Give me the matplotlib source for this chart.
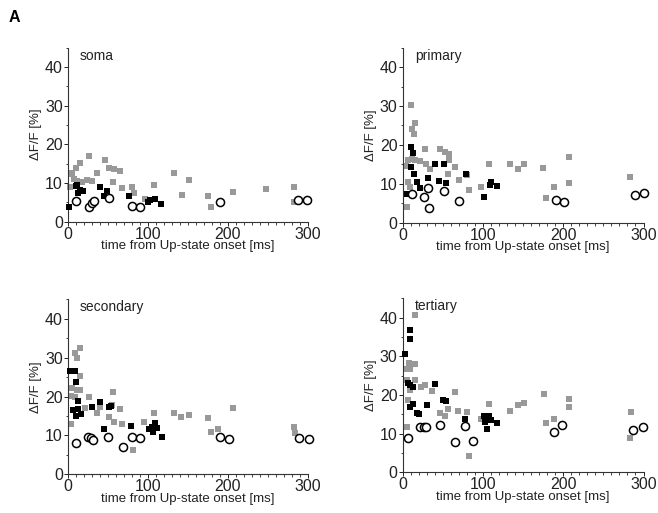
import matplotlib
matplotlib.use("Agg")
import matplotlib.pyplot as plt
from matplotlib.ticker import MultipleLocator

plt.rcParams["font.family"] = ["Liberation Sans", "DejaVu Sans"]

# soma
soma_gray_t = [3, 4, 5, 8, 10, 15, 27, 12, 18, 24, 30, 36, 46, 52, 58, 65, 56, 68, 80, 83,
               96, 108, 133, 143, 151, 175, 179, 207, 248, 283, 283]
soma_gray_v = [9.0, 12.5, 12.3, 11.0, 13.8, 15.2, 17.0, 10.5, 10.3, 10.7, 10.5, 12.7, 15.9, 14.0,
               13.5, 13.2, 10.2, 8.6, 8.9, 7.3, 5.8, 9.5, 12.6, 6.9, 10.8, 6.5, 3.9, 7.7, 8.4,
               9.0, 5.2]
soma_black_t = [2, 10, 12, 13, 15, 19, 40, 45, 49, 77, 100, 103, 109, 117]
soma_black_v = [3.9, 9.2, 9.6, 7.5, 8.2, 8.0, 8.9, 6.6, 7.8, 6.7, 5.0, 5.6, 5.8, 4.6]
soma_open_t = [10, 26, 30, 33, 51, 80, 90, 190, 287, 299]
soma_open_v = [5.3, 3.9, 4.9, 5.3, 6.2, 4.0, 3.9, 5.2, 5.6, 5.6]

# primary
primary_gray_t = [10, 12, 15, 14, 5, 7, 9, 4, 7, 11, 15, 22, 28, 29, 34, 46, 53, 58, 58, 56,
                  65, 70, 80, 83, 97, 108, 134, 144, 151, 175, 179, 188, 207, 207, 283]
primary_gray_v = [30.3, 24.2, 25.6, 22.7, 4.1, 10.5, 9.2, 14.5, 16.1, 16.3, 16.2, 15.9, 19.0,
                  15.2, 13.9, 19.0, 18.2, 17.6, 16.1, 12.5, 14.4, 10.9, 12.2, 8.4, 9.2, 15.0,
                  15.0, 13.9, 15.0, 14.0, 6.3, 9.1, 16.9, 10.3, 11.7]
primary_black_t = [5, 10, 10, 13, 14, 17.5, 21, 31, 40, 45, 51, 54, 79, 101, 109, 110, 117]
primary_black_v = [7.4, 19.4, 14.3, 17.8, 12.5, 10.4, 9.0, 11.4, 15.1, 10.8, 15.0, 10.3, 12.4,
                   6.5, 9.6, 10.4, 9.5]
primary_open_t = [12, 27, 31, 33, 52, 70, 191, 201, 289, 300]
primary_open_v = [7.4, 6.5, 9.0, 3.8, 8.1, 5.6, 5.8, 5.2, 7.1, 7.5]

# secondary
secondary_gray_t = [9, 12, 15, 15, 5, 4, 9, 11, 15, 4, 22, 27, 36, 40, 57, 55, 52, 58, 65, 68,
                    82, 95, 108, 133, 142, 151, 175, 179, 188, 207, 283, 284]
secondary_gray_v = [31.3, 30.0, 32.6, 25.3, 22.1, 20.1, 20.0, 21.7, 21.7, 12.9, 17.1, 20.0,
                    15.9, 17.2, 21.1, 17.8, 14.8, 13.5, 16.7, 12.9, 6.3, 13.5, 15.9, 15.9, 14.8,
                    15.2, 14.4, 10.8, 11.6, 17.0, 12.1, 10.7]
secondary_black_t = [3, 9, 10, 13, 6, 13, 10, 17, 30, 40, 51, 54, 45, 79, 102, 105, 109, 111,
                     107, 118]
secondary_black_v = [26.6, 26.6, 23.8, 18.9, 16.5, 16.8, 15.0, 15.4, 17.4, 18.5, 17.2, 17.7,
                     11.6, 12.4, 11.6, 12.1, 13.3, 11.8, 10.9, 9.7]
secondary_open_t = [10, 25, 29, 32, 50, 69, 80, 90, 190, 201, 289, 301]
secondary_open_v = [8.0, 9.7, 9.4, 8.8, 9.5, 6.9, 9.7, 9.4, 9.7, 9.0, 9.4, 9.2]

# tertiary
tertiary_gray_t = [15, 8, 15, 4, 9, 5, 15, 9, 23, 28, 36, 7, 5, 65, 57, 46, 53, 69, 80, 83,
                   97, 108, 134, 144, 151, 176, 179, 188, 207, 207, 284, 283]
tertiary_gray_v = [40.8, 28.3, 28.1, 26.8, 26.7, 23.8, 23.8, 21.2, 22.1, 22.5, 21.0, 18.7,
                   11.8, 20.8, 16.5, 15.4, 14.5, 15.8, 15.6, 4.3, 13.9, 17.8, 15.8, 17.4, 18.0,
                   20.2, 12.8, 13.8, 18.9, 16.9, 15.5, 9.0]
tertiary_black_t = [3, 9, 9, 6, 9, 13, 13, 9, 17.5, 20, 30, 40, 50, 54, 77, 101, 107, 103, 105,
                    110, 117]
tertiary_black_v = [30.5, 36.7, 34.4, 23.0, 22.7, 22.1, 17.8, 16.9, 15.4, 15.0, 17.5, 22.8,
                    18.8, 18.4, 13.9, 14.5, 14.5, 13.1, 11.3, 13.5, 12.8]
tertiary_open_t = [7, 22, 26, 29, 47, 65, 77, 87, 188, 198, 287, 299]
tertiary_open_v = [9.0, 11.8, 11.6, 11.6, 12.2, 7.9, 12.0, 8.1, 10.5, 12.2, 10.9, 11.8]

panels = [
    ("soma", [0.103, 0.568, 0.365, 0.339],
     soma_gray_t, soma_gray_v, soma_black_t, soma_black_v, soma_open_t, soma_open_v),
    ("primary", [0.612, 0.566, 0.366, 0.341],
     primary_gray_t, primary_gray_v, primary_black_t, primary_black_v,
     primary_open_t, primary_open_v),
    ("secondary", [0.103, 0.0754, 0.365, 0.341],
     secondary_gray_t, secondary_gray_v, secondary_black_t, secondary_black_v,
     secondary_open_t, secondary_open_v),
    ("tertiary", [0.612, 0.0793, 0.366, 0.339],
     tertiary_gray_t, tertiary_gray_v, tertiary_black_t, tertiary_black_v,
     tertiary_open_t, tertiary_open_v),
]

fig = plt.figure(figsize=(6.58, 5.13), dpi=100)

for name, rect, gt, gv, bt, bv, ot, ov in panels:
    ax = fig.add_axes(rect)
    ax.scatter(gt, gv, marker="s", s=24, color="#999999", linewidths=0, zorder=2,
               clip_on=False)
    ax.scatter(bt, bv, marker="s", s=24, color="black", linewidths=0, zorder=3,
               clip_on=False)
    ax.scatter(ot, ov, marker="o", s=34, facecolors="white", edgecolors="black",
               linewidths=1.1, zorder=4, clip_on=False)

    ax.set_xlim(0, 300)
    ax.set_ylim(0, 45)
    ax.xaxis.set_major_locator(MultipleLocator(100))
    ax.xaxis.set_minor_locator(MultipleLocator(10))
    ax.yaxis.set_major_locator(MultipleLocator(10))
    ax.yaxis.set_minor_locator(MultipleLocator(5))
    for s in ("top", "right"):
        ax.spines[s].set_visible(False)
    for s in ("left", "bottom"):
        ax.spines[s].set_linewidth(0.8)
        ax.spines[s].set_color("#333333")
    ax.tick_params(which="major", length=2.8, width=0.7, pad=0.8, labelsize=11.5,
                   colors="#222222")
    ax.tick_params(which="minor", length=1.8, width=0.6, colors="#222222")

    ax.set_xlabel("time from Up-state onset [ms]", fontsize=9.5, labelpad=-1,
                  color="#222222")
    ax.set_ylabel("\u0394F/F [%]", fontsize=9.5, labelpad=2, color="#222222")
    ax.text(0.05, 0.955, name, transform=ax.transAxes, fontsize=10, va="center",
            ha="left", color="#222222")

fig.text(0.013, 0.965, "A", fontsize=11.5, fontweight="bold", va="center", ha="left")

fig.savefig("out.png", dpi=100)
